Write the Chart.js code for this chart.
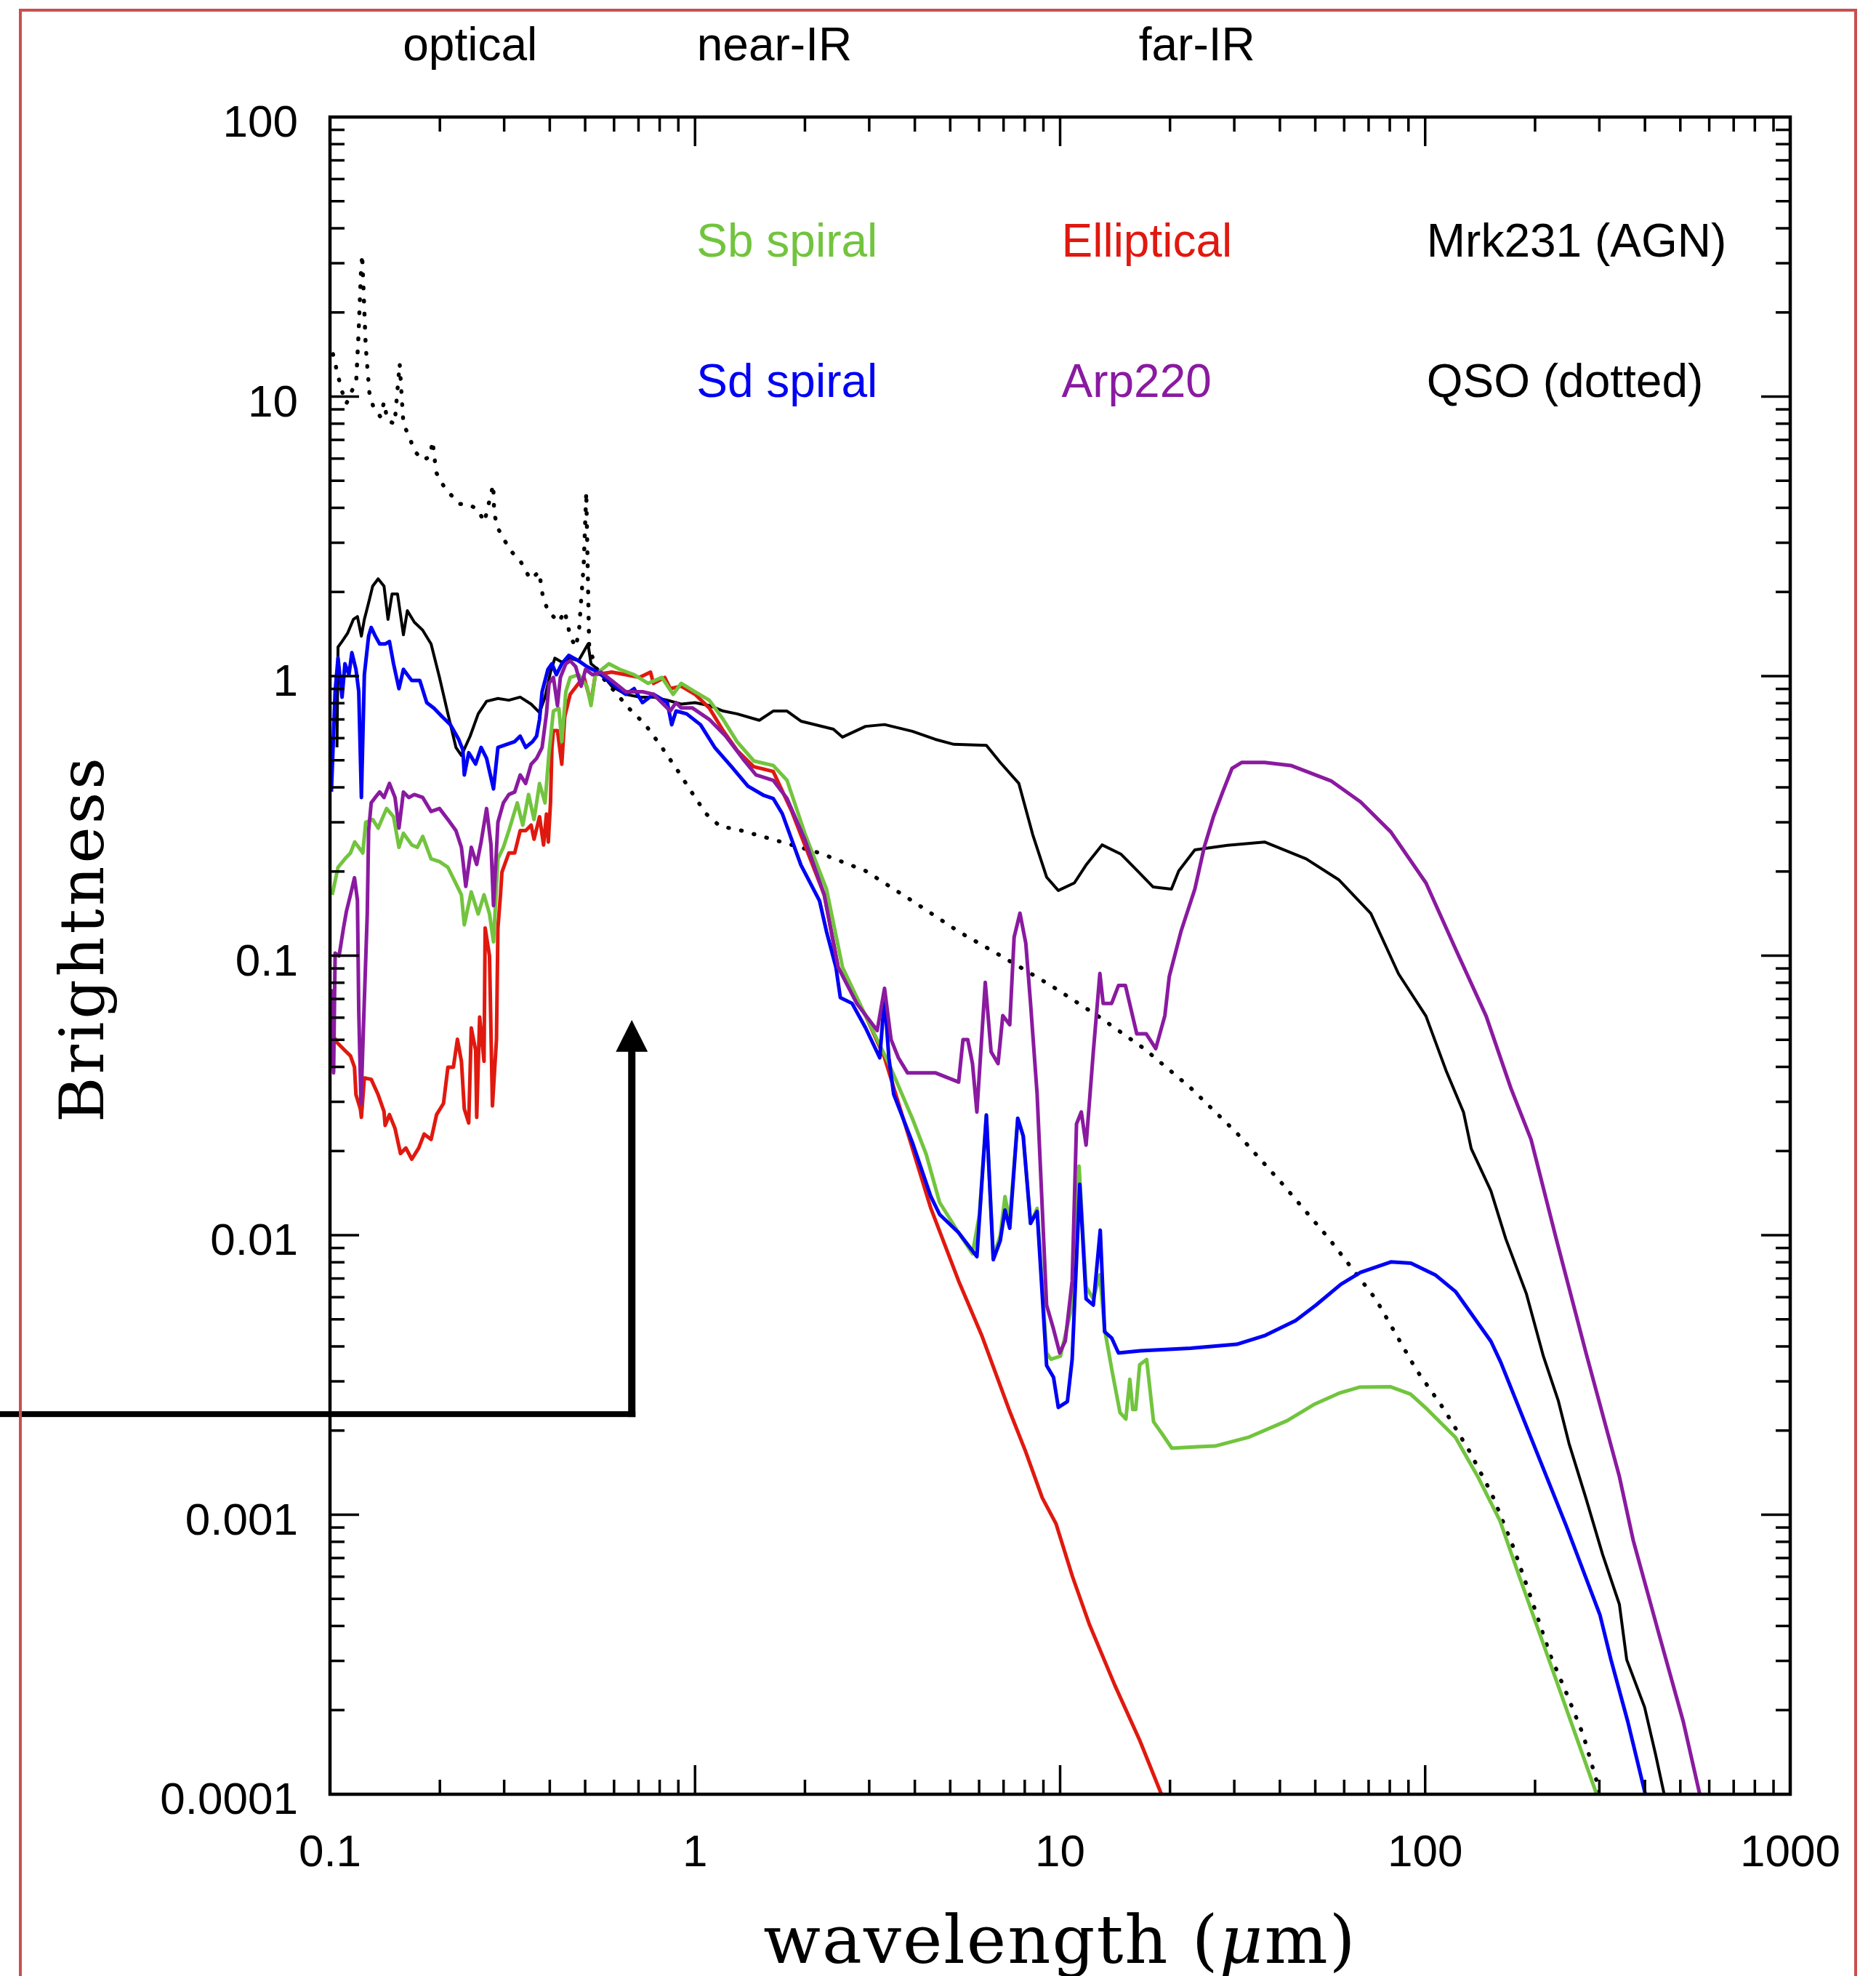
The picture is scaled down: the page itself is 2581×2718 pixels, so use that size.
<!DOCTYPE html>
<html><head><meta charset="utf-8">
<script src="https://cdn.jsdelivr.net/npm/chart.js@4.4.1/dist/chart.umd.min.js"></script>
<style>html,body{margin:0;padding:0;background:#fff;overflow:hidden}canvas{display:block}</style>
</head><body>
<canvas id="c" width="2581" height="2718"></canvas>
<script>
// ---------- axis ticks ----------
const xTickValues = [0.1, 1, 10, 100, 1000];
const xTickLabels = ['0.1', '1', '10', '100', '1000'];
const yTickValues = [0.0001, 0.001, 0.01, 0.1, 1, 10, 100];
const yTickLabels = ['0.0001', '0.001', '0.01', '0.1', '1', '10', '100'];
const minorSteps = [2, 3, 4, 5, 6, 7, 8, 9];

// ---------- text annotations ----------
const regionNames = ['optical', 'near-IR', 'far-IR'];
const regionWave = [0.242, 1.65, 23.7];
const legendNames = ['Sb spiral', 'Elliptical', 'Mrk231 (AGN)', 'Sd spiral', 'Arp220', 'QSO (dotted)'];
const legendWave = [1, 10, 100, 1, 10, 100];
const legendFlux = [31.62, 31.62, 31.62, 10, 10, 10];
const legendColors = ['#72c43e', '#e0190f', '#000000', '#0000f5', '#8a1aa0', '#000000'];
// arrow annotation (wavelength, tip, head base, foot level)
const arrowWave = 0.671, arrowTip = 0.0589, arrowBase = 0.0453, arrowFoot = 0.00229;

// ---------- QSO (dotted) ----------
const qsoWave = [0.1019,0.1052,0.1076,0.1109,0.1180,0.1197,0.1216,0.1225,0.1253,0.1282,
0.1312,0.1374,0.1406,0.1436,0.1503,0.1552,0.1589,0.1652,0.1702,0.1795,
0.1879,0.1910,0.1954,0.2046,0.2138,0.2259,0.2377,0.2535,0.2649,0.2799,
0.2818,0.2884,0.2992,0.3133,0.3334,0.3540,0.3741,0.3828,0.3954,0.4236,
0.4395,0.4550,0.4710,0.4808,0.4955,0.5035,0.5082,0.5129,0.5420,0.6026,
0.6577,0.7311,0.8110,0.9016,1.000,1.074,1.172,1.303,1.675,2.193,
2.931,3.936,5.272,7.063,9.441,12.65,16.98,22.75,30.48,40.74,
54.58,73.28,94.41,112.7,132.1,152.1,175.0,197.7,219.8,243.8,
271.0,295.8,298.5];
const qsoFlux = [14.19,11.89,10.54,9.44,11.38,16.67,28.05,32.21,15.10,10.33,
9.27,8.47,9.55,8.24,7.98,13.12,7.98,7.14,6.40,5.92,
6.10,6.93,5.35,4.80,4.47,4.13,4.13,3.96,3.56,4.84,
3.81,3.38,3.09,2.80,2.56,2.22,2.36,1.93,1.71,1.56,
1.71,1.39,1.27,1.445,2.512,4.56,2.399,1.259,1.033,0.881,
0.769,0.670,0.556,0.454,0.368,0.321,0.290,0.283,0.258,0.233,
0.201,0.157,0.122,0.0979,0.0782,0.0610,0.0465,0.0337,0.0232,0.0152,
0.0097,0.0059,0.00331,0.00238,0.00169,0.00119,0.000757,0.000478,0.000316,0.00023,
0.000163,0.00011,0.0001];

// ---------- Mrk231 (AGN) ----------
const mrkWave = [0.1045,0.1052,0.1079,0.1117,0.1159,0.1189,0.1219,0.1242,0.1276,0.1309,
0.1355,0.1406,0.1442,0.1479,0.1531,0.1589,0.1629,0.1702,0.1795,0.1892,
0.1995,0.2104,0.2213,0.2291,0.2421,0.2547,0.2685,0.2884,0.3090,0.3319,
0.3556,0.3750,0.3882,0.4018,0.4130,0.4315,0.4550,0.4797,0.5093,0.5188,
0.5420,0.5916,0.6457,0.7047,0.7691,0.8395,0.9162,1.000,1.094,1.194,
1.303,1.500,1.637,1.786,1.950,2.393,2.535,2.931,3.304,3.936,
4.550,5.117,6.281,6.855,7.709,8.414,9.183,9.886,10.94,11.78,
13.03,14.66,16.00,17.99,20.18,21.13,23.39,28.71,36.31,47.21,
57.94,70.96,84.53,100.5,114.0,127.4,133.7,151.4,166.3,189.2,
210.9,231.7,247.7,275.4,306.2,340.4,356.5,399.0,427.6,450.8];
const mrkFlux = [0.556,1.271,1.330,1.422,1.596,1.633,1.390,1.596,1.832,2.099,
2.228,2.099,1.596,1.968,1.968,1.406,1.714,1.560,1.459,1.303,
0.989,0.733,0.556,0.520,0.610,0.733,0.813,0.832,0.820,0.841,
0.794,0.741,0.841,1.033,1.159,1.122,1.159,1.135,1.303,1.107,
1.057,0.920,0.861,0.841,0.841,0.820,0.794,0.804,0.785,0.750,
0.733,0.695,0.750,0.750,0.690,0.646,0.605,0.661,0.671,0.635,
0.594,0.570,0.565,0.491,0.413,0.271,0.191,0.171,0.182,0.211,
0.249,0.231,0.206,0.176,0.173,0.201,0.239,0.248,0.255,0.222,
0.187,0.1416,0.0861,0.0608,0.0389,0.0275,0.0204,0.0144,0.0097,0.00619,
0.00368,0.00255,0.0018,0.00115,0.000721,0.000478,0.000303,0.000205,0.000139,0.000101];

// ---------- Elliptical ----------
const ellWave = [0.1007,0.1042,0.1099,0.1138,0.1167,0.1178,0.1211,0.1219,0.1242,0.1297,
0.1355,0.1406,0.1416,0.1455,0.1507,0.1560,0.1614,0.1675,0.1750,0.1811,
0.1892,0.1959,0.2046,0.2104,0.2178,0.2234,0.2291,0.2333,0.2399,0.2438,
0.2506,0.2523,0.2570,0.2642,0.2661,0.2735,0.2786,0.2858,0.2884,0.2931,
0.2958,0.3090,0.3206,0.3319,0.3436,0.3556,0.3622,0.3750,0.3846,0.3917,
0.3963,0.4018,0.4055,0.4093,0.4198,0.4315,0.4395,0.4550,0.4797,0.4966,
0.5188,0.5333,0.5916,0.6457,0.7047,0.7551,0.7691,0.8260,0.8551,0.9162,
1.000,1.094,1.194,1.303,1.449,1.637,1.837,2.259,2.466,2.931,
3.304,3.936,4.426,5.272,6.095,7.244,8.035,8.933,9.750,10.81,
12.02,14.13,16.52,19.01];
const ellFlux = [0.0538,0.0491,0.0458,0.0438,0.0399,0.0318,0.0283,0.0264,0.0365,0.0361,
0.0318,0.0277,0.0247,0.0270,0.0241,0.0196,0.0205,0.0187,0.0205,0.0230,
0.0220,0.0270,0.0296,0.0399,0.0399,0.0502,0.0419,0.0283,0.0252,0.0551,
0.0458,0.0264,0.0603,0.0419,0.1256,0.0998,0.0290,0.0502,0.1256,0.165,
0.199,0.233,0.233,0.280,0.280,0.293,0.261,0.314,0.249,0.321,
0.255,0.352,0.556,0.638,0.638,0.484,0.716,0.861,0.942,0.989,
0.804,1.012,1.033,1.012,0.989,1.033,0.942,0.989,0.902,0.920,
0.861,0.769,0.638,0.543,0.474,0.456,0.330,0.165,0.0908,0.0610,
0.0432,0.0205,0.01247,0.00686,0.00439,0.00238,0.00169,0.00115,0.000927,0.000601,
0.000406,0.000245,0.000156,0.0000989];

// ---------- Sb spiral ----------
const sbWave = [0.1014,0.1052,0.1099,0.1138,0.1169,0.1199,0.1230,0.1253,0.1309,0.1355,
0.1429,0.1493,0.1545,0.1589,0.1675,0.1734,0.1795,0.1892,0.1995,0.2104,
0.2213,0.2291,0.2333,0.2438,0.2547,0.2642,0.2735,0.2805,0.2884,0.2985,
0.3090,0.3258,0.3373,0.3499,0.3622,0.3750,0.3882,0.3981,0.4093,0.4236,
0.4315,0.4426,0.4550,0.4797,0.5058,0.5188,0.5333,0.5808,0.6223,0.6808,
0.7430,0.8110,0.8710,0.9162,1.000,1.094,1.194,1.303,1.449,1.637,
1.786,2.004,2.291,2.535,2.931,3.396,3.936,4.295,4.677,5.272,
5.754,6.012,6.281,6.561,6.855,7.063,7.278,7.656,7.925,8.299,
8.650,9.183,9.441,10.02,10.79,11.27,11.78,12.33,12.85,13.24,
13.87,14.59,15.14,15.52,15.81,16.11,16.52,17.26,18.03,19.01,
20.23,23.88,26.55,32.73,41.88,49.89,58.48,66.07,80.17,91.20,
101.4,121.1,139.3,160.3,181.1,215.8,257.0,295.8];
const sbFlux = [0.165,0.207,0.222,0.233,0.255,0.244,0.233,0.300,0.307,0.286,
0.336,0.314,0.244,0.274,0.249,0.244,0.267,0.222,0.217,0.207,
0.181,0.165,0.129,0.169,0.141,0.165,0.141,0.112,0.222,0.244,
0.280,0.352,0.293,0.377,0.307,0.413,0.352,0.532,0.750,0.767,
0.583,0.879,0.989,1.012,0.920,0.785,1.012,1.107,1.057,1.012,
0.942,0.989,0.861,0.942,0.879,0.820,0.700,0.583,0.497,0.479,
0.424,0.271,0.173,0.0908,0.0610,0.0411,0.0262,0.0195,0.01309,0.01021,
0.00859,0.01186,0.0269,0.00838,0.00995,0.01374,0.01127,0.0262,0.0226,0.01102,
0.01247,0.00379,0.0036,0.00369,0.00562,0.01766,0.00653,0.00592,0.00721,0.00461,
0.00328,0.00232,0.0022,0.00305,0.00238,0.00238,0.00344,0.00359,0.00215,0.00195,
0.00173,0.00175,0.00176,0.00189,0.00217,0.00249,0.00273,0.00286,0.00287,0.0027,
0.00238,0.00189,0.00137,0.000951,0.000601,0.000316,0.000166,0.0000989];

// ---------- Sd spiral ----------
const sdWave = [0.1009,0.1033,0.1052,0.1079,0.1099,0.1127,0.1148,0.1178,0.1199,0.1219,
0.1242,0.1276,0.1297,0.1330,0.1368,0.1416,0.1455,0.1493,0.1545,0.1589,
0.1675,0.1762,0.1841,0.1928,0.2028,0.2138,0.2249,0.2312,0.2333,0.2399,
0.2506,0.2594,0.2685,0.2805,0.2884,0.3041,0.3206,0.3319,0.3436,0.3589,
0.3681,0.3750,0.3811,0.3954,0.4055,0.4169,0.4315,0.4508,0.4797,0.5058,
0.5420,0.5916,0.6457,0.6808,0.7178,0.7691,0.8395,0.8630,0.8872,0.9484,
1.035,1.132,1.259,1.396,1.545,1.637,1.734,1.950,2.193,2.291,
2.432,2.500,2.692,2.931,3.206,3.304,3.396,3.499,3.936,4.426,
4.677,5.272,5.916,6.281,6.561,6.855,7.063,7.278,7.656,7.925,
8.299,8.650,9.183,9.594,9.886,10.47,10.79,11.32,11.78,12.33,
12.88,13.24,13.84,14.45,16.60,22.75,30.48,36.48,44.16,50.12,
58.75,66.53,80.54,91.41,106.9,121.3,151.4,161.1,197.7,243.8,
301.3,322.8,358.9,401.8];
const sdFlux = [0.386,0.881,1.161,0.841,1.107,1.012,1.213,1.057,0.881,0.368,
1.012,1.393,1.493,1.393,1.303,1.303,1.330,1.107,0.902,1.057,
0.964,0.964,0.804,0.767,0.716,0.670,0.596,0.545,0.443,0.532,
0.485,0.556,0.508,0.395,0.556,0.569,0.583,0.610,0.556,0.583,
0.610,0.700,0.879,1.057,1.107,1.012,1.107,1.186,1.135,1.081,
1.033,0.942,0.861,0.902,0.804,0.861,0.804,0.670,0.750,0.733,
0.670,0.556,0.474,0.404,0.374,0.365,0.322,0.211,0.157,0.122,
0.0908,0.0708,0.0675,0.0552,0.0431,0.0708,0.0431,0.0320,0.0215,0.01374,
0.01186,0.01021,0.00838,0.0269,0.00817,0.00955,0.0123,0.01059,0.0262,0.0226,
0.01102,0.01216,0.00342,0.0031,0.00242,0.00254,0.0036,0.0152,0.00592,0.00562,
0.01042,0.00451,0.00429,0.00379,0.00386,0.00394,0.00407,0.00438,0.00495,0.00561,
0.00667,0.00736,0.00802,0.00794,0.00719,0.00627,0.00417,0.00351,0.0018,0.000908,
0.000437,0.000303,0.000182,0.0000989];

// ---------- Arp220 ----------
const arpWave = [0.1007,0.1023,0.1033,0.1059,0.1089,0.1109,0.1138,0.1167,0.1189,0.1199,
0.1216,0.1239,0.1265,0.1276,0.1297,0.1330,0.1368,0.1406,0.1455,0.1507,
0.1545,0.1589,0.1644,0.1702,0.1795,0.1892,0.1995,0.2104,0.2213,0.2291,
0.2355,0.2438,0.2523,0.2594,0.2685,0.2761,0.2805,0.2884,0.2985,0.3090,
0.3206,0.3319,0.3436,0.3556,0.3681,0.3811,0.3917,0.3981,0.4093,0.4198,
0.4276,0.4426,0.4550,0.4710,0.4875,0.5012,0.5236,0.5521,0.5916,0.6457,
0.7178,0.7691,0.8551,0.8872,0.9162,0.9840,1.094,1.213,1.349,1.469,
1.637,1.786,2.004,2.259,2.466,2.773,3.155,3.304,3.443,3.606,
3.819,4.550,5.272,5.420,5.585,5.754,5.916,6.237,6.471,6.761,
6.966,7.278,7.482,7.762,8.054,8.299,8.650,9.183,9.594,9.977,
10.33,10.79,11.09,11.43,11.78,12.33,12.85,13.12,13.84,14.45,
15.10,16.22,17.22,18.28,19.36,19.91,21.43,23.39,24.83,26.30,
27.86,29.58,31.41,36.31,42.85,55.21,66.53,80.54,100.5,121.3,
146.9,171.8,195.0,228.6,276.1,340.4,371.5,435.5,509.3,566.2];
const arpFlux = [0.0759,0.0381,0.1021,0.0998,0.1256,0.1439,0.165,0.190,0.158,0.0632,
0.0296,0.0632,0.141,0.280,0.352,0.368,0.385,0.368,0.413,0.368,
0.286,0.385,0.368,0.377,0.368,0.328,0.336,0.307,0.280,0.244,
0.177,0.244,0.212,0.255,0.336,0.249,0.151,0.300,0.352,0.377,
0.385,0.443,0.413,0.484,0.508,0.556,0.733,0.942,0.989,0.785,
0.989,1.107,1.135,1.081,0.920,1.057,1.012,1.033,0.964,0.879,
0.879,0.861,0.750,0.804,0.769,0.769,0.700,0.610,0.508,0.443,
0.424,0.365,0.258,0.165,0.0908,0.0675,0.0540,0.0764,0.0501,0.0431,
0.0381,0.0381,0.0353,0.0501,0.0501,0.0411,0.0276,0.0802,0.0453,0.0411,
0.0610,0.0566,0.1164,0.1419,0.1107,0.0675,0.0320,0.00562,0.00461,0.00379,
0.00418,0.00686,0.0250,0.0276,0.0210,0.0453,0.0863,0.0675,0.0675,0.0782,
0.0782,0.0525,0.0525,0.0465,0.0610,0.0843,0.122,0.173,0.245,0.314,
0.384,0.468,0.491,0.491,0.479,0.422,0.355,0.277,0.182,0.1052,
0.0608,0.0335,0.0220,0.0097,0.00377,0.00137,0.000809,0.00038,0.000182,0.0000989];

// ---------- build datasets ----------
function pts(w, f) { return w.map((v, i) => ({ x: v, y: f[i] })); }
const lineSeries = [
  { label: 'Arp220', data: pts(arpWave, arpFlux), color: '#8a1aa0', width: 5 },
  { label: 'Sd spiral', data: pts(sdWave, sdFlux), color: '#0000f5', width: 5 },
  { label: 'Sb spiral', data: pts(sbWave, sbFlux), color: '#72c43e', width: 5 },
  { label: 'Elliptical', data: pts(ellWave, ellFlux), color: '#e0190f', width: 5 },
  { label: 'Mrk231 (AGN)', data: pts(mrkWave, mrkFlux), color: '#000000', width: 4 },
  { label: 'QSO (dotted)', data: pts(qsoWave, qsoFlux), color: '#000000', width: 5.5, dash: [1, 17] }
];
const datasets = lineSeries.map(s => ({
  label: s.label, data: s.data, borderColor: s.color, backgroundColor: s.color,
  borderWidth: s.width, pointRadius: 0, pointHoverRadius: 0, fill: false, tension: 0,
  borderDash: s.dash || [], borderCapStyle: s.dash ? 'round' : 'butt', borderJoinStyle: 'round'
}));

const SANS = '"Liberation Sans", Arial, Helvetica, sans-serif';
const SERIF = '"DejaVu Serif", serif';

const decor = {
  id: 'decor',
  beforeDraw(chart) {
    const ctx = chart.ctx;
    ctx.save(); ctx.fillStyle = '#fff'; ctx.fillRect(0, 0, chart.width, chart.height); ctx.restore();
  },
  afterDraw(chart) {
    const { ctx, chartArea: a, scales: { x, y } } = chart;
    ctx.save();
    // frame
    ctx.strokeStyle = '#000'; ctx.lineWidth = 4.5;
    ctx.strokeRect(a.left, a.top, a.right - a.left, a.bottom - a.top);
    // inward ticks
    ctx.lineWidth = 3.5;
    const seg = (x1, y1, x2, y2) => { ctx.beginPath(); ctx.moveTo(x1, y1); ctx.lineTo(x2, y2); ctx.stroke(); };
    xTickValues.forEach((d, k) => {
      const p = x.getPixelForValue(d);
      seg(p, a.bottom, p, a.bottom - 40); seg(p, a.top, p, a.top + 40);
      if (k < xTickValues.length - 1) minorSteps.forEach(m => {
        const q = x.getPixelForValue(d * m);
        seg(q, a.bottom, q, a.bottom - 20); seg(q, a.top, q, a.top + 20);
      });
    });
    yTickValues.forEach((d, k) => {
      const p = y.getPixelForValue(d);
      seg(a.left, p, a.left + 40, p); seg(a.right, p, a.right - 40, p);
      if (k < yTickValues.length - 1) minorSteps.forEach(m => {
        const q = y.getPixelForValue(d * m);
        seg(a.left, q, a.left + 20, q); seg(a.right, q, a.right - 20, q);
      });
    });
    // region labels above the plot
    ctx.fillStyle = '#000'; ctx.font = '64px ' + SANS; ctx.textAlign = 'center'; ctx.textBaseline = 'alphabetic';
    regionNames.forEach((t, i) => ctx.fillText(t, x.getPixelForValue(regionWave[i]), 83));
    // legend texts
    ctx.textAlign = 'left';
    legendNames.forEach((t, i) => {
      ctx.fillStyle = legendColors[i];
      ctx.fillText(t, x.getPixelForValue(legendWave[i]) + 2, y.getPixelForValue(legendFlux[i]));
    });
    // x axis title with italic mu
    ctx.fillStyle = '#000';
    const f1 = '92px ' + SERIF, f2 = 'italic 92px ' + SERIF;
    try { ctx.letterSpacing = '2px'; } catch (e) {}
    const parts = [['wavelength (', f1], ['\u03bc', f2], ['m)', f1]];
    let tw = 0; parts.forEach(p => { ctx.font = p[1]; tw += ctx.measureText(p[0]).width; });
    let cx = (a.left + a.right) / 2 - tw / 2;
    ctx.textAlign = 'left';
    parts.forEach(p => { ctx.font = p[1]; ctx.fillText(p[0], cx, 2700); cx += ctx.measureText(p[0]).width; });
    try { ctx.letterSpacing = '0px'; } catch (e) {}
    // y axis title
    ctx.save();
    ctx.translate(142, 1291); ctx.rotate(-Math.PI / 2);
    ctx.font = '85px ' + SERIF; ctx.textAlign = 'center';
    try { ctx.letterSpacing = '4px'; } catch (e) {}
    ctx.fillText('Brightness', 0, 0);
    ctx.restore();
    // arrow annotation
    const ax = x.getPixelForValue(arrowWave);
    const tipY = y.getPixelForValue(arrowTip), baseY = y.getPixelForValue(arrowBase), footY = y.getPixelForValue(arrowFoot);
    ctx.fillStyle = '#000';
    ctx.fillRect(0, footY - 4, ax + 5, 8);
    ctx.fillRect(ax - 5, baseY - 1, 10, footY - baseY + 5);
    ctx.beginPath(); ctx.moveTo(ax, tipY); ctx.lineTo(ax - 22, baseY); ctx.lineTo(ax + 22, baseY); ctx.closePath(); ctx.fill();
    // outer red frame
    ctx.strokeStyle = '#c8504e'; ctx.lineWidth = 4;
    ctx.beginPath(); ctx.moveTo(28, chart.height); ctx.lineTo(28, 14); ctx.lineTo(2553, 14); ctx.lineTo(2553, chart.height); ctx.stroke();
    ctx.restore();
  }
};

new Chart(document.getElementById('c'), {
  type: 'line',
  data: { datasets },
  options: {
    responsive: false, devicePixelRatio: 1, animation: false,
    layout: { padding: { top: 161, right: 118, bottom: 0, left: 0 } },
    plugins: { legend: { display: false }, tooltip: { enabled: false }, title: { display: false } },
    elements: { line: { tension: 0 } },
    scales: {
      x: {
        type: 'logarithmic', min: 0.1, max: 1000, position: 'bottom',
        grid: { display: false, drawTicks: false }, border: { display: false },
        afterBuildTicks: s => { s.ticks = xTickValues.map(v => ({ value: v })); },
        afterFit: s => { s.height = 250; },
        ticks: { autoSkip: false, maxRotation: 0, minRotation: 0, padding: 45, color: '#000',
          font: { family: SANS, size: 62 }, callback: (v, i) => xTickLabels[i] }
      },
      y: {
        type: 'logarithmic', min: 0.0001, max: 100, position: 'left',
        grid: { display: false, drawTicks: false }, border: { display: false },
        afterBuildTicks: s => { s.ticks = yTickValues.map(v => ({ value: v })); },
        afterFit: s => { s.width = 454; },
        ticks: { autoSkip: false, padding: 44, labelOffset: 10, color: '#000',
          font: { family: SANS, size: 62 }, callback: (v, i) => yTickLabels[i] }
      }
    }
  },
  plugins: [decor]
});
</script>
</body></html>
